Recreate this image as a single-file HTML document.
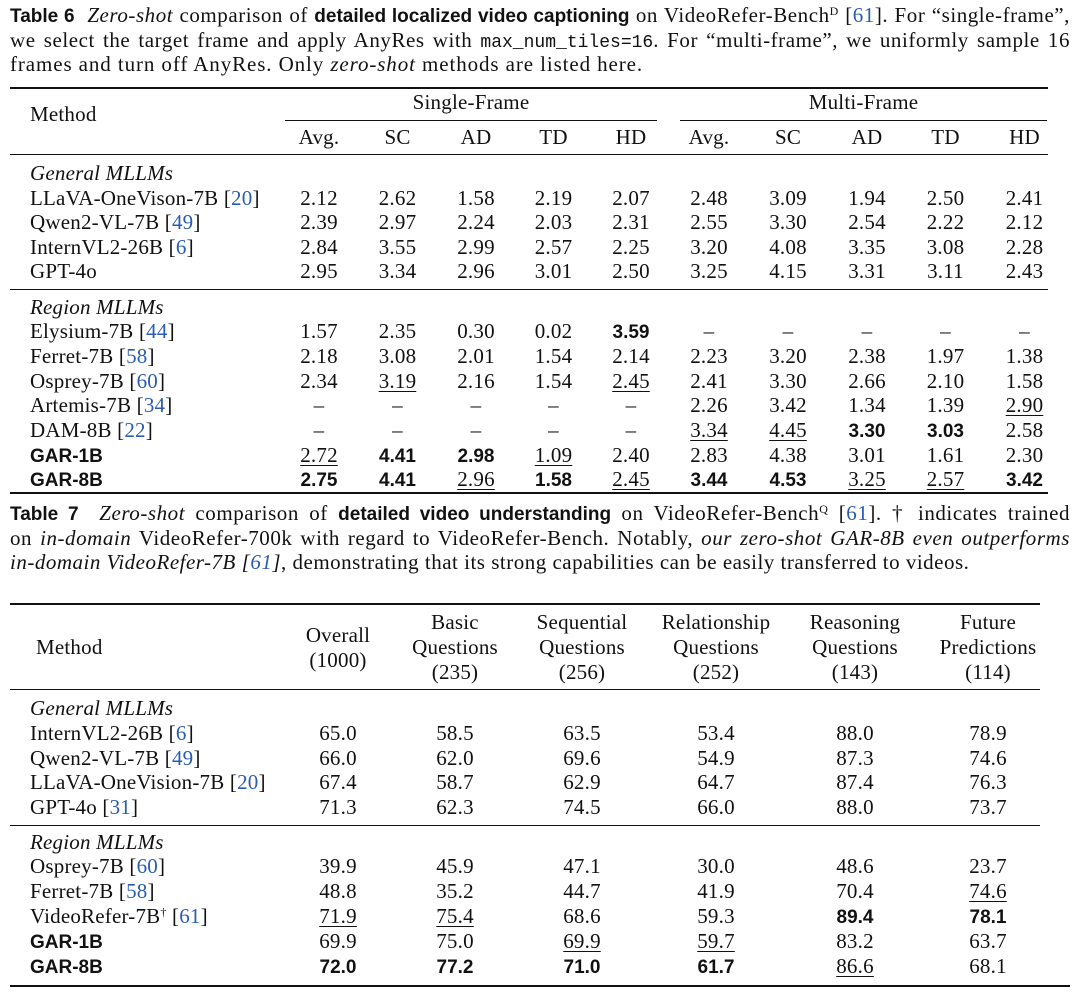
<!DOCTYPE html>
<html><head><meta charset="utf-8"><style>
body{margin:0;background:#fff;}
#p{position:relative;width:1080px;height:995px;overflow:hidden;font-family:"Liberation Serif",serif;font-size:21px;letter-spacing:0.2px;color:#111;}
.cap{position:absolute;left:10px;width:1060px;line-height:24px;height:24px;text-align:justify;text-align-last:justify;white-space:nowrap;letter-spacing:0.55px;overflow:visible;}
.cap.l{text-align-last:left;letter-spacing:0.9px;}
.s{font-family:"Liberation Sans",sans-serif;font-weight:bold;font-size:19px;letter-spacing:0;}
.r .s{position:relative;top:2px;}
.m{font-family:"Liberation Mono",monospace;font-size:18px;letter-spacing:0;}
.b{color:#2a5db0;}
sup{font-size:12px;line-height:0;vertical-align:7px;}
.r{position:absolute;left:0;width:1080px;line-height:24px;display:grid;text-align:center;}
.t6{grid-template-columns:280px 78px 79px 78px 77px 78px 78px 80px 78px 79px 79px;}
.t7{grid-template-columns:283px 110px 124px 130px 138px 140px 126px;}
.r>span:first-child{text-align:left;padding-left:30px;white-space:nowrap;}
.u{text-decoration:underline;text-underline-offset:3px;text-decoration-thickness:1px;}
.rule{position:absolute;background:#111;}
i{font-style:italic;}
.h{position:absolute;text-align:center;line-height:25px;}
</style></head><body><div id="p">

<div class="cap" style="top:3px"><span class="s">Table 6</span>&nbsp; <i>Zero-shot</i> comparison of <span class="s">detailed localized video captioning</span> on VideoRefer-Bench<sup>D</sup> [<span class="b">61</span>]. For “single-frame”,</div>
<div class="cap" style="top:28px">we select the target frame and apply AnyRes with <span class="m">max_num_tiles=16</span>. For “multi-frame”, we uniformly sample 16</div>
<div class="cap l" style="top:52px">frames and turn off AnyRes. Only <i>zero-shot</i> methods are listed here.</div>

<div class="rule" style="left:10px;width:1038px;top:87px;height:2px"></div>
<div class="h" style="left:30px;top:102px;">Method</div>
<div class="h" style="left:285px;width:372px;top:90px;">Single-Frame</div>
<div class="h" style="left:680px;width:367px;top:90px;">Multi-Frame</div>
<div class="rule" style="left:285px;width:372px;top:120px;height:1px"></div>
<div class="rule" style="left:680px;width:367px;top:120px;height:1px"></div>
<div class="r t6" style="top:125px"><span></span><span>Avg.</span><span>SC</span><span>AD</span><span>TD</span><span>HD</span><span>Avg.</span><span>SC</span><span>AD</span><span>TD</span><span>HD</span></div>
<div class="rule" style="left:10px;width:1038px;top:154px;height:1px"></div>

<div class="r t6" style="top:161px"><span><i>General MLLMs</i></span></div>
<div class="r t6" style="top:186px"><span>LLaVA-OneVison-7B [<span class="b">20</span>]</span><span>2.12</span><span>2.62</span><span>1.58</span><span>2.19</span><span>2.07</span><span>2.48</span><span>3.09</span><span>1.94</span><span>2.50</span><span>2.41</span></div>
<div class="r t6" style="top:210px"><span>Qwen2-VL-7B [<span class="b">49</span>]</span><span>2.39</span><span>2.97</span><span>2.24</span><span>2.03</span><span>2.31</span><span>2.55</span><span>3.30</span><span>2.54</span><span>2.22</span><span>2.12</span></div>
<div class="r t6" style="top:235px"><span>InternVL2-26B [<span class="b">6</span>]</span><span>2.84</span><span>3.55</span><span>2.99</span><span>2.57</span><span>2.25</span><span>3.20</span><span>4.08</span><span>3.35</span><span>3.08</span><span>2.28</span></div>
<div class="r t6" style="top:259px"><span>GPT-4o</span><span>2.95</span><span>3.34</span><span>2.96</span><span>3.01</span><span>2.50</span><span>3.25</span><span>4.15</span><span>3.31</span><span>3.11</span><span>2.43</span></div>
<div class="rule" style="left:10px;width:1038px;top:289px;height:1px"></div>

<div class="r t6" style="top:295px"><span><i>Region MLLMs</i></span></div>
<div class="r t6" style="top:319px"><span>Elysium-7B [<span class="b">44</span>]</span><span>1.57</span><span>2.35</span><span>0.30</span><span>0.02</span><span class="s">3.59</span><span>–</span><span>–</span><span>–</span><span>–</span><span>–</span></div>
<div class="r t6" style="top:344px"><span>Ferret-7B [<span class="b">58</span>]</span><span>2.18</span><span>3.08</span><span>2.01</span><span>1.54</span><span>2.14</span><span>2.23</span><span>3.20</span><span>2.38</span><span>1.97</span><span>1.38</span></div>
<div class="r t6" style="top:369px"><span>Osprey-7B [<span class="b">60</span>]</span><span>2.34</span><span><span class="u">3.19</span></span><span>2.16</span><span>1.54</span><span><span class="u">2.45</span></span><span>2.41</span><span>3.30</span><span>2.66</span><span>2.10</span><span>1.58</span></div>
<div class="r t6" style="top:393px"><span>Artemis-7B [<span class="b">34</span>]</span><span>–</span><span>–</span><span>–</span><span>–</span><span>–</span><span>2.26</span><span>3.42</span><span>1.34</span><span>1.39</span><span><span class="u">2.90</span></span></div>
<div class="r t6" style="top:418px"><span>DAM-8B [<span class="b">22</span>]</span><span>–</span><span>–</span><span>–</span><span>–</span><span>–</span><span><span class="u">3.34</span></span><span><span class="u">4.45</span></span><span class="s">3.30</span><span class="s">3.03</span><span>2.58</span></div>
<div class="r t6" style="top:443px"><span class="s">GAR-1B</span><span><span class="u">2.72</span></span><span class="s">4.41</span><span class="s">2.98</span><span><span class="u">1.09</span></span><span>2.40</span><span>2.83</span><span>4.38</span><span>3.01</span><span>1.61</span><span>2.30</span></div>
<div class="r t6" style="top:467px"><span class="s">GAR-8B</span><span class="s">2.75</span><span class="s">4.41</span><span><span class="u">2.96</span></span><span class="s">1.58</span><span><span class="u">2.45</span></span><span class="s">3.44</span><span class="s">4.53</span><span><span class="u">3.25</span></span><span><span class="u">2.57</span></span><span class="s">3.42</span></div>
<div class="rule" style="left:10px;width:1038px;top:492px;height:2px"></div>

<div class="cap" style="top:501px"><span class="s">Table 7</span>&nbsp; <i>Zero-shot</i> comparison of <span class="s">detailed video understanding</span> on VideoRefer-Bench<sup>Q</sup> [<span class="b">61</span>]. † indicates trained</div>
<div class="cap" style="top:526px">on <i>in-domain</i> VideoRefer-700k with regard to VideoRefer-Bench. Notably, <i>our zero-shot GAR-8B even outperforms</i></div>
<div class="cap l" style="top:550px;letter-spacing:0.5px"><i>in-domain VideoRefer-7B [<span class="b">61</span>]</i>, demonstrating that its strong capabilities can be easily transferred to videos.</div>

<div class="rule" style="left:10px;width:1030px;top:603px;height:2px"></div>
<div class="h" style="left:36px;top:635px;">Method</div>
<div class="h" style="left:283px;width:110px;top:623px;">Overall<br>(1000)</div>
<div class="h" style="left:393px;width:124px;top:610px;">Basic<br>Questions<br>(235)</div>
<div class="h" style="left:517px;width:130px;top:610px;">Sequential<br>Questions<br>(256)</div>
<div class="h" style="left:647px;width:138px;top:610px;">Relationship<br>Questions<br>(252)</div>
<div class="h" style="left:785px;width:140px;top:610px;">Reasoning<br>Questions<br>(143)</div>
<div class="h" style="left:925px;width:126px;top:610px;">Future<br>Predictions<br>(114)</div>
<div class="rule" style="left:10px;width:1030px;top:689px;height:1px"></div>

<div class="r t7" style="top:696px"><span><i>General MLLMs</i></span></div>
<div class="r t7" style="top:721px"><span>InternVL2-26B [<span class="b">6</span>]</span><span>65.0</span><span>58.5</span><span>63.5</span><span>53.4</span><span>88.0</span><span>78.9</span></div>
<div class="r t7" style="top:746px"><span>Qwen2-VL-7B [<span class="b">49</span>]</span><span>66.0</span><span>62.0</span><span>69.6</span><span>54.9</span><span>87.3</span><span>74.6</span></div>
<div class="r t7" style="top:770px"><span>LLaVA-OneVision-7B [<span class="b">20</span>]</span><span>67.4</span><span>58.7</span><span>62.9</span><span>64.7</span><span>87.4</span><span>76.3</span></div>
<div class="r t7" style="top:795px"><span>GPT-4o [<span class="b">31</span>]</span><span>71.3</span><span>62.3</span><span>74.5</span><span>66.0</span><span>88.0</span><span>73.7</span></div>
<div class="rule" style="left:10px;width:1030px;top:825px;height:1px"></div>

<div class="r t7" style="top:830px"><span><i>Region MLLMs</i></span></div>
<div class="r t7" style="top:854px"><span>Osprey-7B [<span class="b">60</span>]</span><span>39.9</span><span>45.9</span><span>47.1</span><span>30.0</span><span>48.6</span><span>23.7</span></div>
<div class="r t7" style="top:879px"><span>Ferret-7B [<span class="b">58</span>]</span><span>48.8</span><span>35.2</span><span>44.7</span><span>41.9</span><span>70.4</span><span><span class="u">74.6</span></span></div>
<div class="r t7" style="top:904px"><span>VideoRefer-7B<sup>†</sup> [<span class="b">61</span>]</span><span><span class="u">71.9</span></span><span><span class="u">75.4</span></span><span>68.6</span><span>59.3</span><span class="s">89.4</span><span class="s">78.1</span></div>
<div class="r t7" style="top:929px"><span class="s">GAR-1B</span><span>69.9</span><span>75.0</span><span><span class="u">69.9</span></span><span><span class="u">59.7</span></span><span>83.2</span><span>63.7</span></div>
<div class="r t7" style="top:954px"><span class="s">GAR-8B</span><span class="s">72.0</span><span class="s">77.2</span><span class="s">71.0</span><span class="s">61.7</span><span><span class="u">86.6</span></span><span>68.1</span></div>
<div class="rule" style="left:10px;width:1060px;top:985px;height:2px"></div>
</div></body></html>
